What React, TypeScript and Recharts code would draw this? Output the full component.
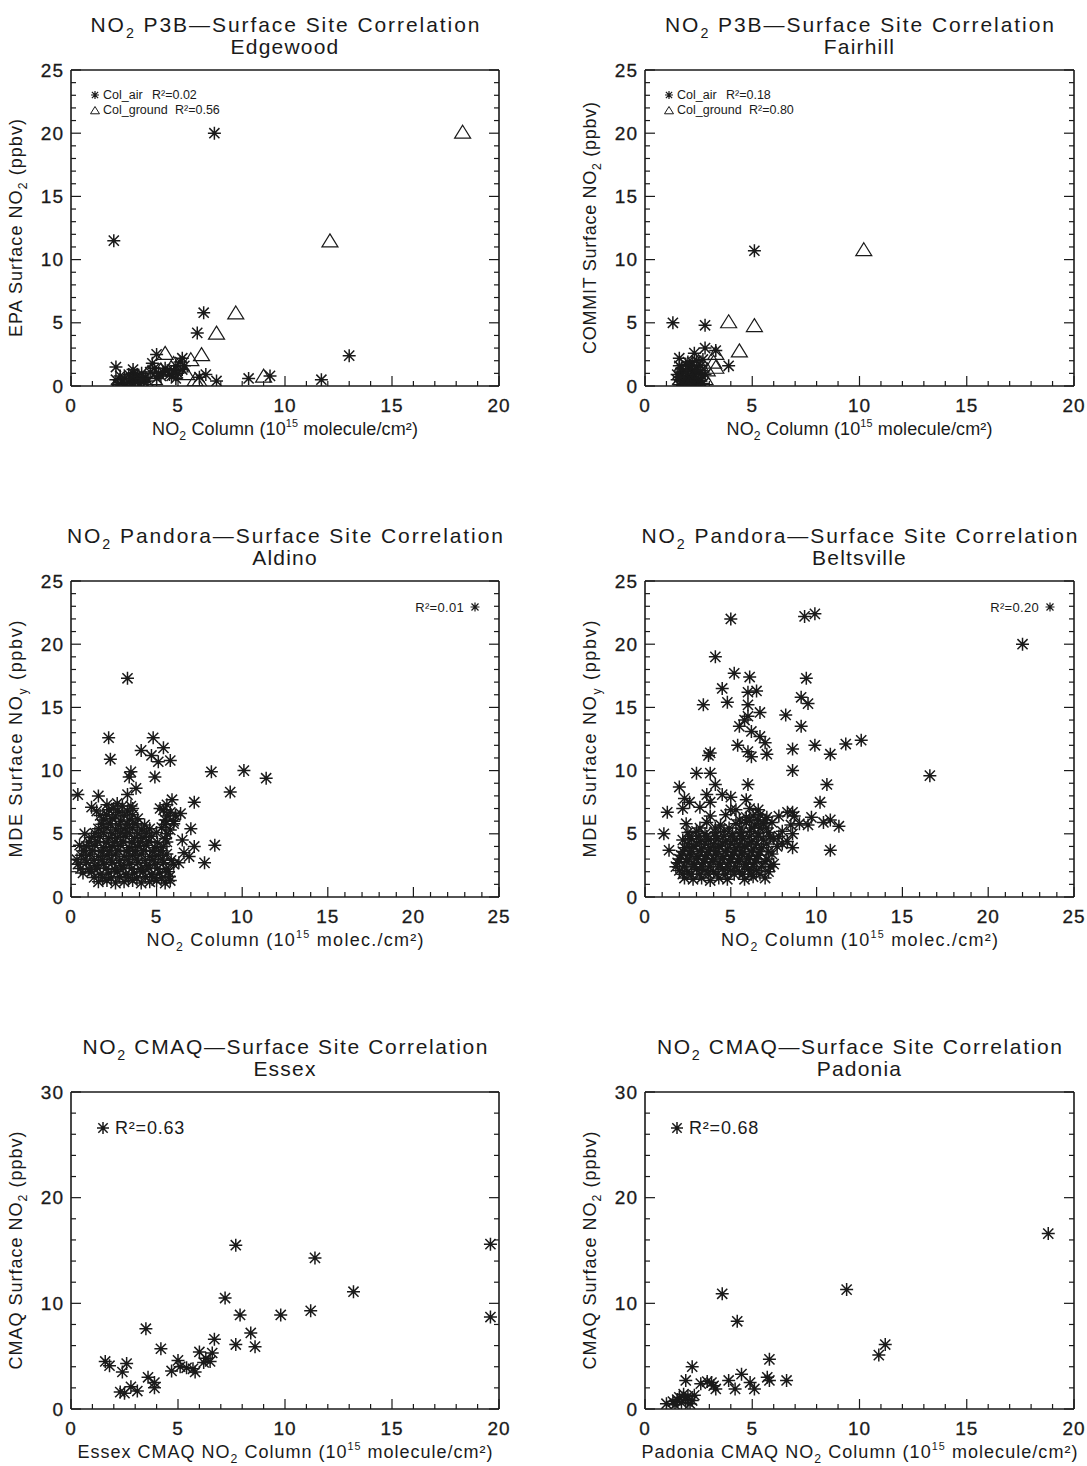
import React from "react";
import { ScatterChart, Scatter, XAxis, YAxis } from "recharts";

type Pt = [number, number];

const INK = "#1a1a1a";
const FONT = "'Liberation Sans', Arial, Helvetica, sans-serif";

// tick positions (major every 5 / 10, minor in between)
const ticks0to20 = [0, 1, 2, 3, 4, 5, 6, 7, 8, 9, 10, 11, 12, 13, 14, 15, 16, 17, 18, 19, 20];
const ticks0to25 = [0, 1, 2, 3, 4, 5, 6, 7, 8, 9, 10, 11, 12, 13, 14, 15, 16, 17, 18, 19, 20, 21, 22, 23, 24, 25];
const ticks0to30 = [0, 2, 4, 6, 8, 10, 12, 14, 16, 18, 20, 22, 24, 26, 28, 30];

// --- P3B: Edgewood ---
const edgewoodAir: Pt[] = [
  [2.0, 11.5], [6.7, 20.0], [6.2, 5.8], [5.9, 4.2], [13.0, 2.4], [11.7, 0.5], [9.3, 0.8], [8.3, 0.6],
  [6.8, 0.4], [6.3, 0.9], [6.0, 0.7], [4.0, 2.5], [5.2, 2.2], [2.1, 1.5], [2.1, 0.5], [2.2, 0.1],
  [2.5, 0.6], [2.7, 0.9], [2.9, 1.0], [3.1, 0.8], [3.0, 0.3], [3.3, 1.0], [3.2, 0.5], [2.6, 0.2],
  [3.5, 0.7], [3.9, 1.4], [4.1, 1.0], [4.3, 1.1], [4.6, 0.9], [4.8, 1.2], [4.9, 1.6], [5.1, 1.9],
  [5.3, 1.6], [4.4, 1.4], [3.8, 1.8], [4.7, 0.8], [2.8, 0.6], [3.4, 0.3], [4.2, 0.8], [5.0, 1.0],
  [2.3, 0.8], [2.4, 0.3], [2.8, 0.2], [3.0, 0.7], [3.2, 0.2], [3.6, 0.4], [4.0, 0.6], [4.5, 1.2],
  [4.9, 0.6], [5.2, 1.3], [3.7, 1.1], [2.9, 1.3], [3.3, 0.6],
];
const edgewoodGround: Pt[] = [
  [18.3, 20.0], [12.1, 11.4], [7.7, 5.7], [6.8, 4.1], [6.1, 2.4], [5.6, 2.0], [4.4, 2.5], [9.0, 0.7],
  [5.4, 0.9], [5.8, 0.4], [5.1, 1.5], [4.8, 1.7], [4.2, 1.2], [3.6, 1.0], [3.1, 0.7], [2.6, 0.4],
  [2.2, 0.1], [3.9, 0.5], [2.9, 0.2], [6.0, 0.3],
];

// --- P3B: Fairhill ---
const fairhillAir: Pt[] = [
  [1.3, 5.0], [2.8, 4.8], [5.1, 10.7], [3.9, 1.6], [2.8, 3.0], [3.3, 2.8], [2.3, 2.6], [1.6, 2.2],
  [1.6, 1.6], [1.7, 1.1], [1.5, 0.5], [1.6, 0.1], [1.9, 0.3], [2.0, 0.8], [2.1, 1.3], [2.2, 1.9],
  [2.3, 0.5], [2.5, 1.0], [2.6, 1.6], [2.4, 0.2], [1.8, 0.7], [2.7, 2.1], [2.0, 0.0], [1.9, 1.7],
  [2.3, 1.2], [2.6, 0.4], [2.8, 0.9], [1.7, 0.4], [2.2, 0.7],
  [1.5, 0.9], [1.7, 1.4], [1.8, 0.2], [1.9, 1.1], [2.0, 0.5], [2.1, 1.6], [2.2, 0.2], [2.3, 0.9],
  [2.4, 1.5], [2.5, 0.6], [2.6, 1.2], [2.7, 0.2], [1.6, 0.7], [2.0, 1.9], [2.4, 2.0],
];
const fairhillGround: Pt[] = [
  [10.2, 10.7], [3.9, 5.0], [5.1, 4.7], [4.4, 2.7], [3.3, 2.5], [3.2, 1.8], [3.3, 1.4], [2.9, 1.2],
  [2.5, 0.8], [2.2, 0.4], [2.6, 1.5], [2.0, 0.2], [2.8, 0.5],
];

// --- Pandora: Aldino ---
const aldino: Pt[] = [
  [3.3, 17.3], [2.2, 12.6], [2.3, 10.9], [4.8, 12.6], [5.4, 11.8], [4.1, 11.6], [4.7, 11.2], [5.1, 10.7],
  [5.8, 10.8], [3.5, 9.9], [3.4, 9.5], [4.9, 9.5], [3.8, 8.6], [3.3, 8.1], [8.2, 9.9], [10.1, 10.0],
  [11.4, 9.4], [9.3, 8.3], [7.2, 7.5], [0.4, 8.1], [1.6, 8.0], [1.2, 7.1], [5.9, 7.7], [6.4, 6.6],
  [7.0, 5.4], [7.2, 4.0], [8.4, 4.1], [7.8, 2.7], [6.9, 3.2], [6.5, 4.5], [6.6, 3.5], [6.3, 2.7],
  [5.8, 1.3], [0.5, 4.1], [0.8, 5.0], [2.7, 7.4], [3.5, 7.2],
  [1.6, 1.2], [2.1, 1.3], [2.6, 1.1], [3.1, 1.2], [3.6, 1.3], [4.1, 1.1], [4.6, 1.2], [5.0, 1.3], [5.5, 1.1],
  [0.7, 1.9], [1.2, 2.0], [1.7, 1.8], [2.2, 1.9], [2.7, 2.0], [3.2, 1.8], [3.7, 1.9], [4.2, 2.0], [4.7, 1.8],
  [5.2, 1.9], [5.7, 2.0], [0.4, 2.6], [0.9, 2.7], [1.4, 2.5], [1.9, 2.6], [2.4, 2.7], [2.9, 2.5], [3.4, 2.6],
  [3.9, 2.7], [4.4, 2.5], [4.9, 2.6], [5.4, 2.7], [6.0, 2.6], [0.6, 3.3], [1.1, 3.4], [1.6, 3.2], [2.1, 3.3],
  [2.6, 3.4], [3.1, 3.2], [3.6, 3.3], [4.1, 3.4], [4.6, 3.2], [5.1, 3.3], [5.6, 3.4], [0.9, 4.0], [1.4, 4.1],
  [1.9, 3.9], [2.4, 4.0], [2.9, 4.1], [3.4, 3.9], [3.9, 4.0], [4.4, 4.1], [4.9, 3.9], [5.4, 4.0], [1.2, 4.7],
  [1.7, 4.8], [2.2, 4.6], [2.7, 4.7], [3.2, 4.8], [3.7, 4.6], [4.2, 4.7], [4.7, 4.8], [5.5, 4.6], [1.6, 5.4],
  [2.1, 5.5], [2.6, 5.3], [3.1, 5.4], [3.6, 5.5], [4.1, 5.3], [4.6, 5.4], [5.3, 5.5], [5.8, 5.3], [1.9, 6.1],
  [2.4, 6.2], [2.9, 6.0], [3.4, 6.1], [3.9, 6.2], [5.5, 6.1], [6.0, 6.0], [1.5, 6.8], [2.2, 6.9], [2.8, 6.7],
  [3.3, 6.8], [5.4, 6.9], [5.8, 6.7], [2.1, 7.3], [3.0, 7.2], [5.6, 7.3],
  [1.35, 1.55], [1.85, 1.55], [2.35, 1.5], [2.85, 1.6], [3.35, 1.55], [3.85, 1.5], [4.35, 1.6], [4.85, 1.55],
  [5.3, 1.5], [5.75, 1.6], [0.55, 2.25], [1.05, 2.2], [1.55, 2.3], [2.05, 2.25], [2.55, 2.2], [3.05, 2.3],
  [3.55, 2.25], [4.05, 2.2], [4.55, 2.3], [5.05, 2.25], [5.55, 2.2], [0.35, 2.95], [0.85, 3.0], [1.35, 2.9],
  [1.85, 2.95], [2.35, 3.0], [2.85, 2.9], [3.35, 2.95], [3.85, 3.0], [4.35, 2.9], [4.85, 2.95], [5.35, 3.0],
  [5.85, 2.9], [0.75, 3.65], [1.25, 3.7], [1.75, 3.6], [2.25, 3.65], [2.75, 3.7], [3.25, 3.6], [3.75, 3.65],
  [4.25, 3.7], [4.75, 3.6], [5.25, 3.65], [1.05, 4.35], [1.55, 4.4], [2.05, 4.3], [2.55, 4.35], [3.05, 4.4],
  [3.55, 4.3], [4.05, 4.35], [4.55, 4.4], [5.05, 4.3], [5.6, 4.35], [1.4, 5.05], [1.9, 5.1], [2.4, 5.0],
  [2.9, 5.05], [3.4, 5.1], [3.9, 5.0], [4.4, 5.05], [5.0, 5.1], [5.6, 5.0], [1.8, 5.75], [2.3, 5.8],
  [2.8, 5.7], [3.3, 5.75], [3.8, 5.8], [4.3, 5.7], [5.5, 5.75], [6.0, 5.8], [1.7, 6.45], [2.1, 6.5],
  [2.6, 6.4], [3.1, 6.45], [3.6, 6.5], [5.6, 6.4], [6.1, 6.45], [2.5, 7.0], [3.6, 7.0], [5.2, 7.0],
];

// --- Pandora: Beltsville ---
const beltsville: Pt[] = [
  [22.0, 20.0], [16.6, 9.6], [5.0, 22.0], [9.3, 22.2], [9.9, 22.4], [4.1, 19.0], [5.2, 17.7], [6.1, 17.4],
  [9.4, 17.3], [4.5, 16.5], [6.5, 16.3], [6.0, 16.2], [9.1, 15.8], [9.5, 15.3], [4.8, 15.4], [3.4, 15.2],
  [6.0, 15.2], [6.7, 14.6], [8.2, 14.4], [9.1, 13.5], [5.5, 13.5], [5.8, 14.0], [6.0, 14.3], [6.2, 13.1],
  [5.4, 12.0], [6.7, 12.7], [7.0, 12.2], [6.0, 11.5], [6.2, 11.1], [7.1, 11.3], [8.6, 11.7], [9.9, 12.0],
  [10.8, 11.3], [11.7, 12.1], [12.6, 12.4], [8.6, 10.0], [3.8, 11.4], [3.7, 11.2], [3.0, 9.8], [3.8, 9.8],
  [4.1, 8.9], [6.0, 8.9], [2.0, 8.7], [10.6, 8.9], [10.2, 7.5], [1.3, 6.7], [1.1, 5.0], [1.4, 3.7],
  [10.8, 3.7], [8.6, 3.9], [11.3, 5.6], [10.8, 6.1], [9.7, 6.3], [9.5, 5.7], [10.4, 5.9],
  [2.3, 7.8], [2.6, 7.5], [3.6, 8.1], [3.8, 7.5], [4.5, 8.1], [5.0, 7.9], [5.9, 7.7], [5.3, 6.9], [8.3, 6.7], [8.6, 6.7],
  [2.3, 1.5], [2.8, 1.4], [3.3, 1.5], [3.8, 1.3], [4.3, 1.5], [4.8, 1.4], [5.8, 1.4], [6.3, 1.6], [7.0, 1.5],
  [2.0, 2.1], [2.5, 2.0], [3.0, 2.2], [3.5, 2.1], [4.0, 2.0], [4.5, 2.2], [5.0, 2.1], [5.5, 2.0], [6.0, 2.2],
  [6.5, 2.1], [7.2, 2.0], [1.9, 2.7], [2.4, 2.8], [2.9, 2.6], [3.4, 2.7], [3.9, 2.8], [4.4, 2.6], [4.9, 2.7],
  [5.4, 2.8], [5.9, 2.6], [6.4, 2.7], [7.0, 2.8], [7.5, 2.6], [2.1, 3.3], [2.6, 3.4], [3.1, 3.2], [3.6, 3.3],
  [4.1, 3.4], [4.6, 3.2], [5.1, 3.3], [5.6, 3.4], [6.1, 3.2], [6.6, 3.3], [7.4, 3.4], [2.3, 3.9], [2.8, 4.0],
  [3.3, 3.8], [3.8, 3.9], [4.3, 4.0], [4.8, 3.8], [5.3, 3.9], [5.8, 4.0], [6.3, 3.8], [6.8, 3.9], [7.7, 4.0],
  [2.2, 4.5], [2.7, 4.6], [3.2, 4.4], [3.7, 4.5], [4.2, 4.6], [4.7, 4.4], [5.2, 4.5], [5.7, 4.6], [6.2, 4.4],
  [6.9, 4.5], [7.5, 4.6], [8.3, 4.4], [2.5, 5.1], [3.0, 5.2], [3.5, 5.0], [4.1, 5.1], [4.6, 5.2], [5.1, 5.0],
  [5.6, 5.1], [6.1, 5.2], [6.6, 5.0], [7.2, 5.1], [8.0, 5.2], [8.6, 5.0], [2.4, 5.8], [3.6, 5.9], [4.4, 5.7],
  [5.3, 5.8], [5.9, 5.9], [6.4, 5.7], [6.9, 5.8], [7.4, 5.9], [8.5, 5.7], [9.0, 5.8], [3.8, 6.4], [4.7, 6.5],
  [5.9, 6.3], [6.3, 6.4], [6.7, 6.5], [7.1, 6.3], [7.8, 6.4], [8.7, 6.4], [2.2, 7.0], [3.2, 7.1], [5.0, 6.9],
  [6.1, 7.0], [6.6, 6.9],
  [2.2, 1.8], [2.7, 1.8], [3.2, 1.8], [3.7, 1.8], [4.2, 1.8], [4.7, 1.8], [5.2, 1.8], [5.7, 1.8], [6.2, 1.8],
  [6.7, 1.8], [1.8, 2.4], [2.3, 2.4], [2.8, 2.4], [3.3, 2.4], [3.8, 2.4], [4.3, 2.4], [4.8, 2.4], [5.3, 2.4],
  [5.8, 2.4], [6.3, 2.4], [6.8, 2.4], [7.3, 2.4], [2.0, 3.0], [2.5, 3.0], [3.0, 3.0], [3.5, 3.0], [4.0, 3.0],
  [4.5, 3.0], [5.0, 3.0], [5.5, 3.0], [6.0, 3.0], [6.5, 3.0], [7.1, 3.0], [2.2, 3.6], [2.7, 3.6], [3.2, 3.6],
  [3.7, 3.6], [4.2, 3.6], [4.7, 3.6], [5.2, 3.6], [5.7, 3.6], [6.2, 3.6], [6.7, 3.6], [7.2, 3.6], [2.5, 4.2],
  [3.0, 4.2], [3.5, 4.2], [4.0, 4.2], [4.5, 4.2], [5.0, 4.2], [5.5, 4.2], [6.0, 4.2], [6.5, 4.2], [7.1, 4.2],
  [8.0, 4.2], [2.6, 4.8], [3.1, 4.8], [3.6, 4.8], [4.1, 4.8], [4.6, 4.8], [5.1, 4.8], [5.6, 4.8], [6.1, 4.8],
  [6.6, 4.8], [7.3, 4.8], [7.8, 4.8], [3.2, 5.45], [4.1, 5.45], [4.9, 5.45], [5.6, 5.45], [6.2, 5.45],
  [6.7, 5.45], [7.1, 5.45], [5.5, 6.1], [6.1, 6.1], [6.6, 6.1], [7.0, 6.1],
];

// --- CMAQ: Essex ---
const essex: Pt[] = [
  [19.6, 15.6], [19.6, 8.7], [7.7, 15.5], [11.4, 14.3], [13.2, 11.1], [11.2, 9.3], [9.8, 8.9], [7.9, 8.9],
  [7.2, 10.5], [8.4, 7.2], [8.6, 5.9], [7.7, 6.1], [6.7, 6.6], [6.6, 5.3], [6.0, 5.4], [6.3, 4.8],
  [6.5, 4.5], [6.2, 4.4], [5.0, 4.6], [5.1, 4.0], [4.7, 3.6], [5.4, 3.9], [5.7, 3.8], [5.8, 3.5],
  [4.2, 5.7], [3.5, 7.6], [3.6, 3.0], [3.9, 2.5], [3.9, 2.0], [1.6, 4.5], [1.8, 4.1], [2.6, 4.3],
  [2.4, 3.5], [2.8, 2.1], [3.1, 1.7], [2.3, 1.6], [2.5, 1.5],
];

// --- CMAQ: Padonia ---
const padonia: Pt[] = [
  [18.8, 16.6], [9.4, 11.3], [3.6, 10.9], [4.3, 8.3], [11.2, 6.1], [10.9, 5.1], [5.8, 4.7], [2.2, 4.0],
  [4.5, 3.3], [5.7, 3.0], [5.8, 2.7], [6.6, 2.7], [3.9, 2.7], [4.9, 2.5], [5.1, 1.9], [4.2, 1.9],
  [3.1, 2.5], [3.3, 1.9], [2.9, 2.6], [2.6, 2.4], [1.9, 2.7], [3.2, 2.2], [1.0, 0.5], [1.3, 0.7],
  [1.5, 0.9], [1.6, 1.1], [1.7, 0.6], [1.9, 0.9], [2.0, 1.2], [2.2, 0.8], [2.3, 1.3], [1.4, 0.4],
  [2.1, 0.5], [1.8, 1.4],
];

const toPts = (a: Pt[]) => a.map(([x, y]) => ({ x, y }));

// --- markers ---
function Star({ cx, cy, r = 6.5, sw = 1.5 }: any) {
  const d = r * 0.78;
  return (
    <path
      d={`M${cx},${cy - r}V${cy + r}M${cx - r},${cy}H${cx + r}M${cx - d},${cy - d}L${cx + d},${cy + d}M${cx - d},${cy + d}L${cx + d},${cy - d}`}
      stroke={INK}
      strokeWidth={sw}
      fill="none"
    />
  );
}

function Tri({ cx, cy, s = 8, sw = 1.2 }: any) {
  return (
    <path
      d={`M${cx},${cy - s}L${cx + s},${cy + s * 0.62}L${cx - s},${cy + s * 0.62}Z`}
      stroke={INK}
      strokeWidth={sw}
      fill="none"
    />
  );
}

// --- rich text with sub/superscripts ---
type Seg = string | { sub: string } | { sup: string };
function rich(segs: Seg[], fs: number) {
  let shift = 0;
  return segs.map((s, i) => {
    let target = 0;
    let text = "";
    let size: number | undefined;
    if (typeof s === "string") {
      text = s;
    } else if ("sub" in s) {
      target = fs * 0.3;
      text = s.sub;
      size = fs * 0.68;
    } else {
      target = -fs * 0.42;
      text = s.sup;
      size = fs * 0.6;
    }
    const dy = target - shift;
    shift = target;
    return (
      <tspan key={i} dy={dy} fontSize={size}>
        {text}
      </tspan>
    );
  });
}

// --- box ticks, all pointing inward like the IDL box ---
function AxisTick(props: any) {
  const { x, y, payload, side, major } = props;
  const v = payload.value;
  const isMajor = v % major === 0;
  const len = isMajor ? 10 : 5;
  const lbl = { fontSize: 19, fill: INK, fontFamily: FONT, letterSpacing: 1, stroke: INK, strokeWidth: 0.3 };
  if (side === "bottom") {
    return (
      <g>
        <line x1={x} x2={x} y1={y} y2={y - len} stroke={INK} strokeWidth={1.2} />
        {isMajor && (
          <text x={x} y={y + 19} dy="0.35em" textAnchor="middle" {...lbl}>
            {v}
          </text>
        )}
      </g>
    );
  }
  if (side === "top") {
    return <line x1={x} x2={x} y1={y} y2={y + len} stroke={INK} strokeWidth={1.2} />;
  }
  if (side === "left") {
    return (
      <g>
        <line x1={x} x2={x + len} y1={y} y2={y} stroke={INK} strokeWidth={1.2} />
        {isMajor && (
          <text x={x - 7} y={y} dy="0.35em" textAnchor="end" {...lbl}>
            {v}
          </text>
        )}
      </g>
    );
  }
  return <line x1={x} x2={x - len} y1={y} y2={y} stroke={INK} strokeWidth={1.2} />;
}

const titleP3B: Seg[] = ["NO", { sub: "2" }, " P3B\u2014Surface Site Correlation"];
const titlePandora: Seg[] = ["NO", { sub: "2" }, " Pandora\u2014Surface Site Correlation"];
const titleCMAQ: Seg[] = ["NO", { sub: "2" }, " CMAQ\u2014Surface Site Correlation"];
const xTitleMolecule: Seg[] = ["NO", { sub: "2" }, " Column (10", { sup: "15" }, " molecule/cm\u00b2)"];
const xTitleMolec: Seg[] = ["NO", { sub: "2" }, " Column (10", { sup: "15" }, " molec./cm\u00b2)"];

const panels = [
  {
    pos: { left: 0, top: 0, w: 543, h: 489 },
    plot: { l: 71, t: 70, r: 499, b: 386 },
    xMax: 20, xTicks: ticks0to20, yMax: 25, yTicks: ticks0to25, yMajor: 5,
    title: titleP3B, titleLen: 389, site: "Edgewood",
    yTitle: ["EPA Surface NO", { sub: "2" }, " (ppbv)"] as Seg[], yLen: 218,
    xTitle: xTitleMolecule, xLen: 266,
    series: [{ data: edgewoodAir, kind: "star" }, { data: edgewoodGround, kind: "tri" }],
    legend: { type: "pair", air: "0.02", ground: "0.56" },
  },
  {
    pos: { left: 543, top: 0, w: 544, h: 489 },
    plot: { l: 645, t: 70, r: 1074, b: 386 },
    xMax: 20, xTicks: ticks0to20, yMax: 25, yTicks: ticks0to25, yMajor: 5,
    title: titleP3B, titleLen: 389, site: "Fairhill",
    yTitle: ["COMMIT Surface NO", { sub: "2" }, " (ppbv)"] as Seg[], yLen: 252,
    xTitle: xTitleMolecule, xLen: 266,
    series: [{ data: fairhillAir, kind: "star" }, { data: fairhillGround, kind: "tri" }],
    legend: { type: "pair", air: "0.18", ground: "0.80" },
  },
  {
    pos: { left: 0, top: 489, w: 543, h: 511 },
    plot: { l: 71, t: 581, r: 499, b: 897 },
    xMax: 25, xTicks: ticks0to25, yMax: 25, yTicks: ticks0to25, yMajor: 5,
    title: titlePandora, titleLen: 436, site: "Aldino",
    yTitle: ["MDE Surface NO", { sub: "y" }, " (ppbv)"] as Seg[], yLen: 237,
    xTitle: xTitleMolec, xLen: 277,
    series: [{ data: aldino, kind: "star" }],
    legend: { type: "right", r2: "0.01" },
  },
  {
    pos: { left: 543, top: 489, w: 544, h: 511 },
    plot: { l: 645, t: 581, r: 1074, b: 897 },
    xMax: 25, xTicks: ticks0to25, yMax: 25, yTicks: ticks0to25, yMajor: 5,
    title: titlePandora, titleLen: 436, site: "Beltsville",
    yTitle: ["MDE Surface NO", { sub: "y" }, " (ppbv)"] as Seg[], yLen: 237,
    xTitle: xTitleMolec, xLen: 277,
    series: [{ data: beltsville, kind: "star" }],
    legend: { type: "right", r2: "0.20" },
  },
  {
    pos: { left: 0, top: 1000, w: 543, h: 466 },
    plot: { l: 71, t: 1092, r: 499, b: 1409 },
    xMax: 20, xTicks: ticks0to20, yMax: 30, yTicks: ticks0to30, yMajor: 10,
    title: titleCMAQ, titleLen: 405, site: "Essex",
    yTitle: ["CMAQ Surface NO", { sub: "2" }, " (ppbv)"] as Seg[], yLen: 238,
    xTitle: ["Essex CMAQ NO", { sub: "2" }, " Column (10", { sup: "15" }, " molecule/cm\u00b2)"] as Seg[], xLen: 415,
    series: [{ data: essex, kind: "star" }],
    legend: { type: "left", r2: "0.63" },
  },
  {
    pos: { left: 543, top: 1000, w: 544, h: 466 },
    plot: { l: 645, t: 1092, r: 1074, b: 1409 },
    xMax: 20, xTicks: ticks0to20, yMax: 30, yTicks: ticks0to30, yMajor: 10,
    title: titleCMAQ, titleLen: 405, site: "Padonia",
    yTitle: ["CMAQ Surface NO", { sub: "2" }, " (ppbv)"] as Seg[], yLen: 238,
    xTitle: ["Padonia CMAQ NO", { sub: "2" }, " Column (10", { sup: "15" }, " molecule/cm\u00b2)"] as Seg[], xLen: 436,
    series: [{ data: padonia, kind: "star" }],
    legend: { type: "left", r2: "0.68" },
  },
];

function Legend({ cfg, L, T, R }: any) {
  const txt = { fill: INK, fontFamily: FONT };
  if (cfg.type === "pair") {
    return (
      <g>
        <Star cx={L + 24} cy={T + 25} r={4} sw={1.2} />
        <text x={L + 32} y={T + 25} dy="0.35em" fontSize={12.5} {...txt}>Col_air</text>
        <text x={L + 81} y={T + 25} dy="0.35em" fontSize={12.5} {...txt}>{`R\u00b2=${cfg.air}`}</text>
        <Tri cx={L + 24} cy={T + 41} s={4.5} sw={1} />
        <text x={L + 32} y={T + 40} dy="0.35em" fontSize={12.5} {...txt}>Col_ground</text>
        <text x={L + 104} y={T + 40} dy="0.35em" fontSize={12.5} {...txt}>{`R\u00b2=${cfg.ground}`}</text>
      </g>
    );
  }
  if (cfg.type === "right") {
    return (
      <g>
        <text x={R - 35} y={T + 26} dy="0.35em" textAnchor="end" fontSize={13} letterSpacing={0.3} {...txt}>{`R\u00b2=${cfg.r2}`}</text>
        <Star cx={R - 24} cy={T + 26} r={4.5} sw={1.2} />
      </g>
    );
  }
  return (
    <g>
      <Star cx={L + 32} cy={T + 36} r={6} />
      <text x={L + 44} y={T + 36} dy="0.35em" fontSize={18} letterSpacing={0.8} {...txt}>{`R\u00b2=${cfg.r2}`}</text>
    </g>
  );
}

function Panel({ p }: any) {
  const { pos, plot } = p;
  const L = plot.l - pos.left;
  const T = plot.t - pos.top;
  const R = plot.r - pos.left;
  const B = plot.b - pos.top;
  // axes are 1px thick so they render; margins shrink by that pixel
  const margin = { top: T - 1, left: L - 1, right: pos.w - R - 1, bottom: pos.h - B - 1 };
  const axisLine = { stroke: INK, strokeWidth: 1.6 };
  const common = {
    type: "number" as const,
    allowDataOverflow: true,
    interval: 0 as const,
    tickSize: 0,
    tickMargin: 0,
    tickLine: false,
    axisLine,
  };
  const cx = (L + R) / 2;
  const cy = (T + B) / 2;
  const txt = { fill: INK, fontFamily: FONT };
  return (
    <div style={{ position: "absolute", left: pos.left, top: pos.top, width: pos.w, height: pos.h }}>
      <ScatterChart width={pos.w} height={pos.h} margin={margin}>
        <XAxis
          {...common}
          xAxisId="b"
          dataKey="x"
          domain={[0, p.xMax]}
          ticks={p.xTicks}
          height={1}
          tick={(t: any) => <AxisTick {...t} side="bottom" major={5} />}
        />
        <XAxis
          {...common}
          xAxisId="t"
          orientation="top"
          domain={[0, p.xMax]}
          ticks={p.xTicks}
          height={1}
          tick={(t: any) => <AxisTick {...t} side="top" major={5} />}
        />
        <YAxis
          {...common}
          yAxisId="l"
          dataKey="y"
          domain={[0, p.yMax]}
          ticks={p.yTicks}
          width={1}
          tick={(t: any) => <AxisTick {...t} side="left" major={p.yMajor} />}
        />
        <YAxis
          {...common}
          yAxisId="r"
          orientation="right"
          domain={[0, p.yMax]}
          ticks={p.yTicks}
          width={1}
          tick={(t: any) => <AxisTick {...t} side="right" major={p.yMajor} />}
        />
        {p.series.map((s: any, i: number) => (
          <Scatter
            key={i}
            xAxisId="b"
            yAxisId="l"
            data={toPts(s.data)}
            isAnimationActive={false}
            shape={(sp: any) => (s.kind === "tri" ? <Tri cx={sp.cx} cy={sp.cy} /> : <Star cx={sp.cx} cy={sp.cy} />)}
          />
        ))}
      </ScatterChart>
      <svg
        width={pos.w}
        height={pos.h}
        style={{ position: "absolute", left: 0, top: 0, pointerEvents: "none", overflow: "visible" }}
      >
        <text x={cx} y={T - 38} textAnchor="middle" fontSize={21} textLength={p.titleLen} lengthAdjust="spacing" {...txt}>
          {rich(p.title, 21)}
        </text>
        <text x={cx} y={T - 16} textAnchor="middle" fontSize={21} letterSpacing={1.2} {...txt}>
          {p.site}
        </text>
        <text
          x={L - 49}
          y={cy}
          dy="0.35em"
          textAnchor="middle"
          fontSize={18}
          textLength={p.yLen}
          lengthAdjust="spacing"
          transform={`rotate(-90 ${L - 49} ${cy})`}
          {...txt}
        >
          {rich(p.yTitle, 18)}
        </text>
        <text x={cx} y={B + 49} textAnchor="middle" fontSize={18} textLength={p.xLen} lengthAdjust="spacing" {...txt}>
          {rich(p.xTitle, 18)}
        </text>
        <Legend cfg={p.legend} L={L} T={T} R={R} />
      </svg>
    </div>
  );
}

export default function App() {
  return (
    <div style={{ position: "absolute", left: 0, top: 0, width: 1087, height: 1466, background: "#fff" }}>
      {panels.map((p, i) => (
        <Panel key={i} p={p} />
      ))}
    </div>
  );
}
